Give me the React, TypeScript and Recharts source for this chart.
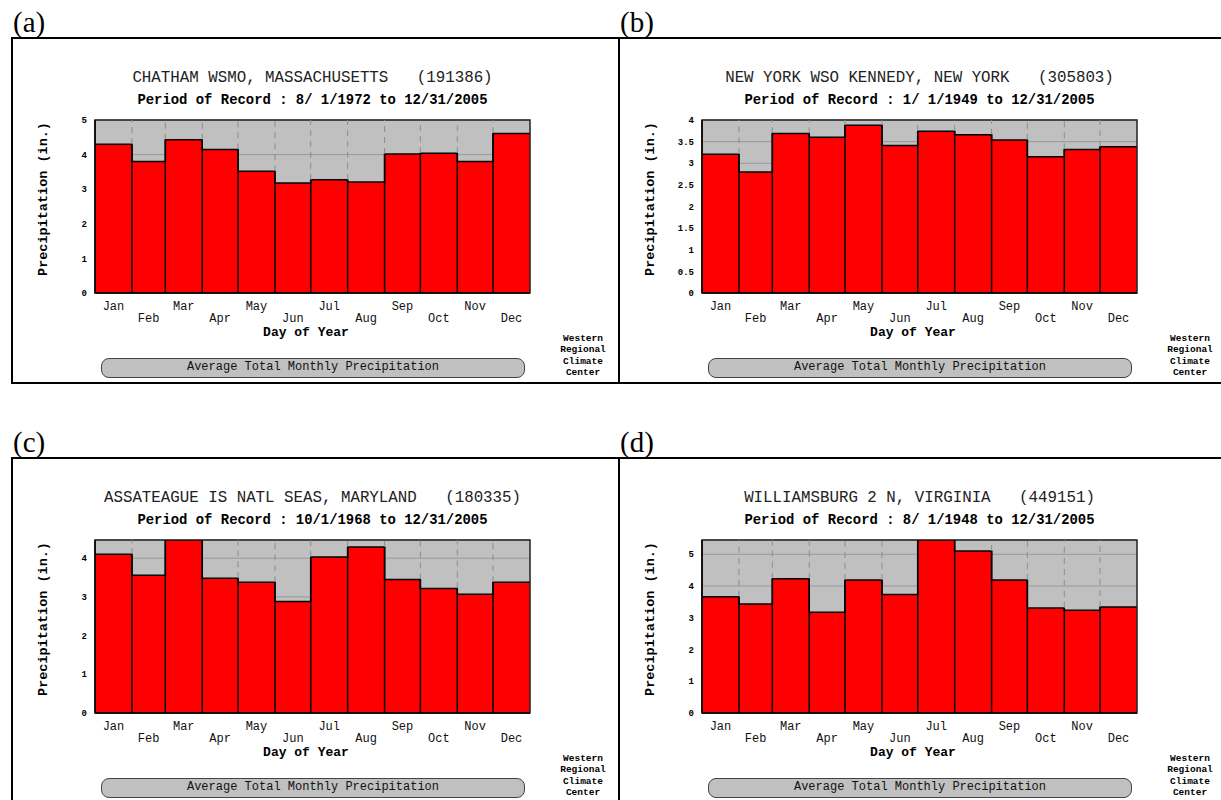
import React from 'react';
import {
  ComposedChart, Area, XAxis, YAxis, CartesianGrid, ReferenceLine, ReferenceArea
} from 'recharts';

// Monthly data (inches)
const months = ['Jan', 'Feb', 'Mar', 'Apr', 'May', 'Jun', 'Jul', 'Aug', 'Sep', 'Oct', 'Nov', 'Dec'];
const monthDays = [31, 28, 31, 30, 31, 30, 31, 31, 30, 31, 30, 31];

const chathamPrecip = [4.30, 3.80, 4.43, 4.15, 3.52, 3.18, 3.27, 3.21, 4.02, 4.04, 3.80, 4.61];
const kennedyPrecip = [3.21, 2.80, 3.69, 3.60, 3.88, 3.41, 3.74, 3.66, 3.54, 3.15, 3.32, 3.38];
const assateaguePrecip = [4.10, 3.56, 4.47, 3.48, 3.38, 2.88, 4.03, 4.29, 3.45, 3.22, 3.07, 3.38];
const williamsburgPrecip = [3.66, 3.43, 4.23, 3.17, 4.19, 3.73, 5.45, 5.10, 4.19, 3.31, 3.24, 3.34];

const chathamTicks = [0, 1, 2, 3, 4, 5];
const kennedyTicks = [0, 0.5, 1, 1.5, 2, 2.5, 3, 3.5, 4];
const assateagueTicks = [0, 1, 2, 3, 4];
const williamsburgTicks = [0, 1, 2, 3, 4, 5];

const MONO = "'Liberation Mono', 'DejaVu Sans Mono', monospace";
const BOX_W = 607;
const BOX_H = 345;

const monthStarts = monthDays.map((_, i) => monthDays.slice(0, i).reduce((a, b) => a + b, 0));
const midDays = monthStarts.map((s, i) => s + monthDays[i] / 2);

const MonthTick = (props: any) => {
  const { x, y, index } = props;
  return (
    <text
      x={x}
      y={y + (index % 2 ? 26 : 14)}
      textAnchor="middle"
      dominantBaseline="central"
      fontFamily={MONO}
      fontSize={12}
      fill="#111"
    >
      {months[index]}
    </text>
  );
};

type PanelProps = {
  left: number;
  top: number;
  tag: string;
  title: string;
  period: string;
  values: number[];
  ticks: number[];
  yMax: number;
};

const Panel: React.FC<PanelProps> = ({ left, top, tag, title, period, values, ticks, yMax }) => {
  const data = monthStarts.map((s, i) => ({ day: s, v: values[i] }));
  data.push({ day: 365, v: values[values.length - 1] });

  return (
    <>
      <div style={{
        position: 'absolute', left: left + 1, top: top - 30, fontFamily: "'Liberation Serif', 'Times New Roman', serif",
        fontSize: 29, lineHeight: '29px', color: '#000'
      }}>{tag}</div>
      <div style={{ position: 'absolute', left, top, width: BOX_W, height: BOX_H }}>
        <div style={{
          position: 'absolute', left: -1, top: -1, width: BOX_W + 2, height: BOX_H + 2,
          border: '2px solid #000', boxSizing: 'border-box'
        }} />
        <div style={{
          position: 'absolute', left: 0, top: 31, width: 601, textAlign: 'center', whiteSpace: 'pre',
          fontFamily: MONO, fontSize: 15.8, lineHeight: '18px', color: '#222'
        }}>{title}</div>
        <div style={{
          position: 'absolute', left: 0, top: 54, width: 601, textAlign: 'center', whiteSpace: 'pre',
          fontFamily: MONO, fontSize: 13.9, fontWeight: 'bold', lineHeight: '16px', color: '#000'
        }}>{period}</div>

        <div style={{ position: 'absolute', left: 0, top: 0 }}>
          <ComposedChart width={BOX_W} height={BOX_H} data={data}
            margin={{ top: 82, right: 89, bottom: 60, left: 43 }}>
            <CartesianGrid vertical={false} stroke="#999" fill="#c0c0c0" fillOpacity={1} />
            <XAxis
              dataKey="day"
              type="number"
              domain={[0, 365]}
              allowDataOverflow
              ticks={midDays}
              interval={0}
              tick={<MonthTick />}
              tickLine={false}
              tickSize={0}
              tickMargin={0}
              axisLine={{ stroke: '#000', strokeWidth: 1.5 }}
              height={30}
            />
            <YAxis
              type="number"
              domain={[0, yMax]}
              allowDataOverflow
              ticks={ticks}
              interval={0}
              width={40}
              tickLine={false}
              axisLine={{ stroke: '#000', strokeWidth: 1.5 }}
              tick={{ fontFamily: MONO, fontSize: 9, fontWeight: 'bold', fill: '#000' }}
            />
            <Area
              type="stepAfter"
              dataKey="v"
              fill="#ff0000"
              fillOpacity={1}
              stroke="#000"
              strokeWidth={1.5}
              dot={false}
              activeDot={false}
              isAnimationActive={false}
            />
            {monthStarts.slice(1).map((s, i) => {
              const top2 = Math.max(values[i], values[i + 1]);
              return (
                <ReferenceLine key={`g${i}`} segment={[{ x: s, y: top2 }, { x: s, y: yMax }]}
                  stroke="#8c8c8c" strokeDasharray="6 5" ifOverflow="visible" />
              );
            })}
            {monthStarts.slice(1).map((s, i) => {
              const top2 = Math.max(values[i], values[i + 1]);
              return (
                <ReferenceLine key={`b${i}`} segment={[{ x: s, y: 0 }, { x: s, y: top2 }]}
                  stroke="#000" strokeWidth={1.5} ifOverflow="visible" />
              );
            })}
            <ReferenceArea x1={0} x2={365} y1={0} y2={yMax} fill="none" fillOpacity={0}
              stroke="#222" strokeWidth={1.5} ifOverflow="visible" />
          </ComposedChart>
        </div>

        <div style={{
          position: 'absolute', left: 31, top: 161, transform: 'translate(-50%, -50%) rotate(-90deg)',
          whiteSpace: 'nowrap', fontFamily: MONO, fontSize: 13.5, fontWeight: 'bold', color: '#000'
        }}>Precipitation (in.)</div>
        <div style={{
          position: 'absolute', left: 0, top: 287, width: 588, textAlign: 'center',
          fontFamily: MONO, fontSize: 13, fontWeight: 'bold', lineHeight: '16px', color: '#000'
        }}>Day of Year</div>
        <div style={{
          position: 'absolute', left: 89, top: 320, width: 424, height: 20, boxSizing: 'border-box',
          border: '1.5px solid #444', borderRadius: 8, background: '#c0c0c0', textAlign: 'center',
          fontFamily: MONO, fontSize: 12, lineHeight: '17px', color: '#111'
        }}>Average Total Monthly Precipitation</div>
        <div style={{
          position: 'absolute', left: 536, top: 295, width: 70, textAlign: 'center',
          fontFamily: MONO, fontSize: 9.5, fontWeight: 'bold', lineHeight: '11.4px', color: '#000'
        }}>Western<br />Regional<br />Climate<br />Center</div>
      </div>
    </>
  );
};

export default function App() {
  return (
    <div style={{
      position: 'absolute', left: 0, top: 0, width: 1221, height: 800, overflow: 'hidden', background: '#fff'
    }}>
      <Panel left={12} top={38} tag="(a)"
        title="CHATHAM WSMO, MASSACHUSETTS   (191386)"
        period="Period of Record : 8/ 1/1972 to 12/31/2005"
        values={chathamPrecip} ticks={chathamTicks} yMax={5} />
      <Panel left={619} top={38} tag="(b)"
        title="NEW YORK WSO KENNEDY, NEW YORK   (305803)"
        period="Period of Record : 1/ 1/1949 to 12/31/2005"
        values={kennedyPrecip} ticks={kennedyTicks} yMax={4} />
      <Panel left={12} top={458} tag="(c)"
        title="ASSATEAGUE IS NATL SEAS, MARYLAND   (180335)"
        period="Period of Record : 10/1/1968 to 12/31/2005"
        values={assateaguePrecip} ticks={assateagueTicks} yMax={Math.max(...assateaguePrecip)} />
      <Panel left={619} top={458} tag="(d)"
        title="WILLIAMSBURG 2 N, VIRGINIA   (449151)"
        period="Period of Record : 8/ 1/1948 to 12/31/2005"
        values={williamsburgPrecip} ticks={williamsburgTicks} yMax={Math.max(...williamsburgPrecip)} />
    </div>
  );
}
